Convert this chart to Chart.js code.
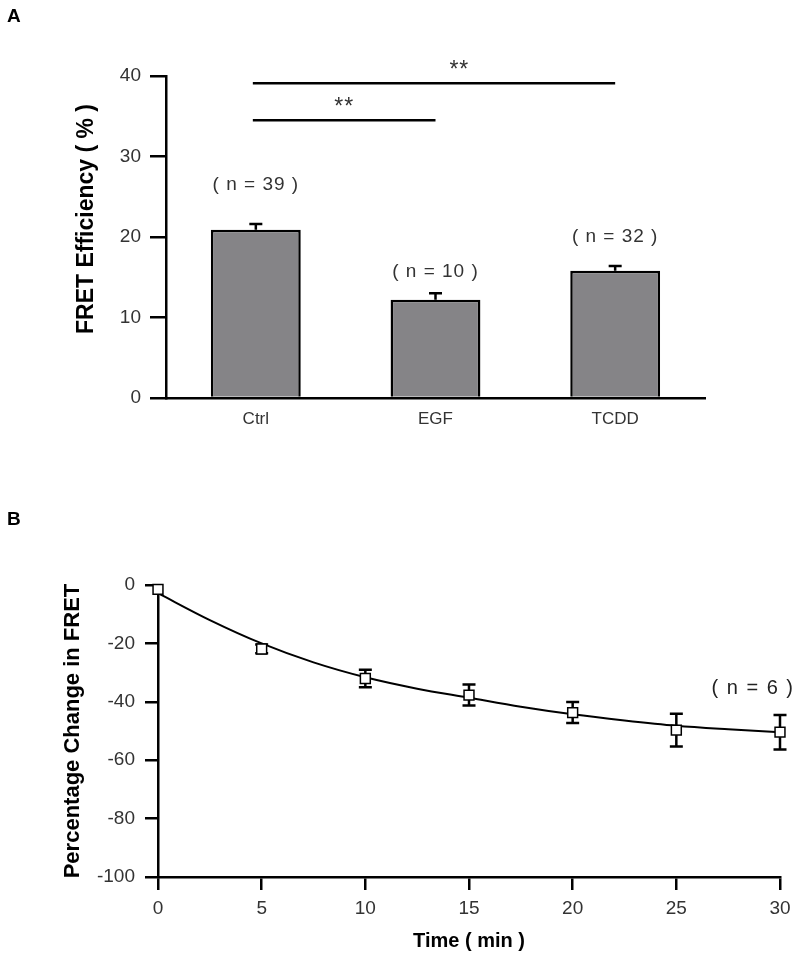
<!DOCTYPE html>
<html>
<head>
<meta charset="utf-8">
<script src="https://cdn.jsdelivr.net/npm/chart.js@4.4.0/dist/chart.umd.min.js"></script>
<style>
  body { margin: 0; background: #fff; }
  canvas { position: absolute; left: 0; }
</style>
</head>
<body>
<canvas id="chartA" width="800" height="470" style="top:0"></canvas>
<canvas id="chartB" width="800" height="492" style="top:470px"></canvas>
<script>
// ---- panel A data
const groups = ['Ctrl', 'EGF', 'TCDD'];
const fretEff = [20.9, 12.2, 15.8];
const fretEffErr = [0.7, 0.8, 0.6];
const groupN = ['( n = 39 )', '( n = 10 )', '( n = 32 )'];
const nLabelY = [26.5, 15.7, 20.0];
const sigPairs = [[0, 2], [0, 1]];
const sigY = [39.1, 34.5];
const sigText = ['**', '**'];
const sigTextPos = [0.57, 0.5];

// ---- panel B data
const timeMin = [0, 5, 10, 15, 20, 25, 30];
const fretChange = [-1.5, -21.9, -32.0, -37.7, -43.7, -49.7, -50.4];
const fretChangeErr = [0, 1.5, 3, 3.6, 3.6, 5.6, 5.9];
const fitTime = [0, 2.5, 5, 7.5, 10, 12.5, 15, 17.5, 20, 22.5, 25, 27.5, 30];
const fitChange = [-2.8, -12.0, -20, -26.5, -31.6, -35.5, -38.6, -41.7, -44.3, -46.4, -48.2, -49.4, -50.4];
const nLabelB = '( n = 6 )';
const nLabelBPos = [28.7, -35.3];

Chart.defaults.font.family = '"Liberation Sans", Arial, sans-serif';
Chart.defaults.color = '#333';

const tickFont = { size: 19 };

// error bars, n labels, significance lines, titles for A
const annotateA = {
  id: 'annotateA',
  afterDatasetsDraw(chart) {
    const { ctx, scales: { x, y } } = chart;
    const meta = chart.getDatasetMeta(0);
    ctx.save();
    ctx.strokeStyle = '#000';
    ctx.lineWidth = 2.5;
    meta.data.forEach((bar, i) => {
      const top = y.getPixelForValue(fretEff[i] + fretEffErr[i]);
      ctx.beginPath();
      ctx.moveTo(bar.x, bar.y);
      ctx.lineTo(bar.x, top);
      ctx.moveTo(bar.x - 6.5, top);
      ctx.lineTo(bar.x + 6.5, top);
      ctx.stroke();
    });

    ctx.fillStyle = '#333';
    ctx.textAlign = 'center';
    ctx.textBaseline = 'middle';
    ctx.font = '19px "Liberation Sans", Arial, sans-serif';
    ctx.letterSpacing = '1px';
    groupN.forEach((t, i) => {
      ctx.fillText(t, x.getPixelForValue(i), y.getPixelForValue(nLabelY[i]));
    });

    // significance bars
    ctx.font = '23px "Liberation Sans", Arial, sans-serif';
    ctx.letterSpacing = '1px';
    sigPairs.forEach((p, i) => {
      const x1 = x.getPixelForValue(p[0]) - 3;
      const x2 = x.getPixelForValue(p[1]);
      const py = y.getPixelForValue(sigY[i]);
      ctx.beginPath();
      ctx.moveTo(x1, py);
      ctx.lineTo(x2, py);
      ctx.stroke();
      ctx.fillText(sigText[i], x1 + (x2 - x1) * sigTextPos[i], py - 13);
    });
    ctx.letterSpacing = '0px';

    // y title
    ctx.fillStyle = '#000';
    ctx.font = 'bold 23px "Liberation Sans", Arial, sans-serif';
    ctx.translate(87, 219);
    ctx.rotate(-Math.PI / 2);
    ctx.fillText('FRET Efficiency ( % )', 0, 0);
    ctx.restore();

    ctx.save();
    ctx.fillStyle = '#000';
    ctx.font = 'bold 19px "Liberation Sans", Arial, sans-serif';
    ctx.fillText('A', 7, 22);
    ctx.restore();
  }
};

new Chart(document.getElementById('chartA'), {
  type: 'bar',
  data: {
    labels: groups,
    datasets: [{
      data: fretEff,
      backgroundColor: '#858487',
      borderColor: '#000',
      borderWidth: 2.5,
      barPercentage: 0.5,
      categoryPercentage: 1.0,
    }],
  },
  options: {
    responsive: false,
    animation: false,
    layout: { padding: { top: 76, right: 95, bottom: 0, left: 0 } },
    plugins: { legend: { display: false }, tooltip: { enabled: false } },
    scales: {
      x: {
        grid: { display: false, drawTicks: false },
        border: { display: true, color: '#000', width: 2.5 },
        ticks: { font: { size: 17 }, color: '#333', padding: 11 },
        afterFit: (s) => { s.height = 72; },
      },
      y: {
        min: 0,
        max: 40,
        ticks: { stepSize: 10, font: tickFont, color: '#333', padding: 9 },
        grid: { drawOnChartArea: false, tickLength: 16, color: '#000', lineWidth: 2.5 },
        border: { display: true, color: '#000', width: 2.5 },
        afterFit: (s) => { s.width = 166; },
      },
    },
  },
  plugins: [annotateA],
});

// error bars and labels for B
const annotateB = {
  id: 'annotateB',
  beforeDatasetsDraw(chart) {
    const { ctx, scales: { x, y } } = chart;
    ctx.save();
    ctx.strokeStyle = '#000';
    ctx.lineWidth = 2.5;
    timeMin.forEach((t, i) => {
      if (!fretChangeErr[i]) return;
      const px = x.getPixelForValue(t);
      const hi = y.getPixelForValue(fretChange[i] + fretChangeErr[i]);
      const lo = y.getPixelForValue(fretChange[i] - fretChangeErr[i]);
      ctx.beginPath();
      ctx.moveTo(px, hi);
      ctx.lineTo(px, lo);
      ctx.moveTo(px - 6.5, hi);
      ctx.lineTo(px + 6.5, hi);
      ctx.moveTo(px - 6.5, lo);
      ctx.lineTo(px + 6.5, lo);
      ctx.stroke();
    });
    ctx.restore();
  },
  afterDatasetsDraw(chart) {
    const { ctx, scales: { x, y } } = chart;
    ctx.save();
    ctx.fillStyle = '#222';
    ctx.textAlign = 'center';
    ctx.textBaseline = 'middle';
    ctx.font = '20px "Liberation Sans", Arial, sans-serif';
    ctx.letterSpacing = '1.5px';
    ctx.fillText(nLabelB, x.getPixelForValue(nLabelBPos[0]), y.getPixelForValue(nLabelBPos[1]));
    ctx.letterSpacing = '0px';

    ctx.fillStyle = '#000';
    ctx.font = 'bold 22px "Liberation Sans", Arial, sans-serif';
    ctx.save();
    ctx.translate(73, (y.top + y.bottom) / 2);
    ctx.rotate(-Math.PI / 2);
    ctx.fillText('Percentage Change in FRET', 0, 0);
    ctx.restore();

    ctx.textAlign = 'left';
    ctx.textBaseline = 'alphabetic';
    ctx.font = 'bold 19px "Liberation Sans", Arial, sans-serif';
    ctx.fillText('B', 7, 55);
    ctx.restore();
  }
};

new Chart(document.getElementById('chartB'), {
  type: 'scatter',
  data: {
    datasets: [
      {
        data: fitTime.map((t, i) => ({ x: t, y: fitChange[i] })),
        showLine: true,
        borderColor: '#000',
        borderWidth: 2,
        pointRadius: 0,
        cubicInterpolationMode: 'monotone',
        fill: false,
        clip: false,
        order: 2,
      },
      {
        data: timeMin.map((t, i) => ({ x: t, y: fretChange[i] })),
        pointStyle: 'rect',
        pointRadius: 7,
        backgroundColor: '#fff',
        borderColor: '#000',
        borderWidth: 1.5,
        clip: false,
        order: 1,
      },
    ],
  },
  options: {
    responsive: false,
    animation: false,
    layout: { padding: { top: 115, right: 20, bottom: 0, left: 0 } },
    plugins: { legend: { display: false }, tooltip: { enabled: false } },
    scales: {
      x: {
        type: 'linear',
        min: 0,
        max: 30,
        ticks: { stepSize: 5, font: tickFont, color: '#333', padding: 7 },
        grid: { drawOnChartArea: false, tickLength: 13, color: '#000', lineWidth: 2.5 },
        border: { display: true, color: '#000', width: 2.5 },
        title: {
          display: true,
          text: 'Time ( min )',
          color: '#000',
          font: { size: 20, weight: 'bold' },
          padding: { top: 0, bottom: 9 },
        },
        afterFit: (s) => { s.height = 85; },
      },
      y: {
        min: -100,
        max: 0,
        ticks: { stepSize: 20, font: tickFont, color: '#333', padding: 10 },
        grid: { drawOnChartArea: false, tickLength: 13, color: '#000', lineWidth: 2.5 },
        border: { display: true, color: '#000', width: 2.5 },
        afterFit: (s) => { s.width = 158; },
      },
    },
  },
  plugins: [annotateB],
});
</script>
</body>
</html>
